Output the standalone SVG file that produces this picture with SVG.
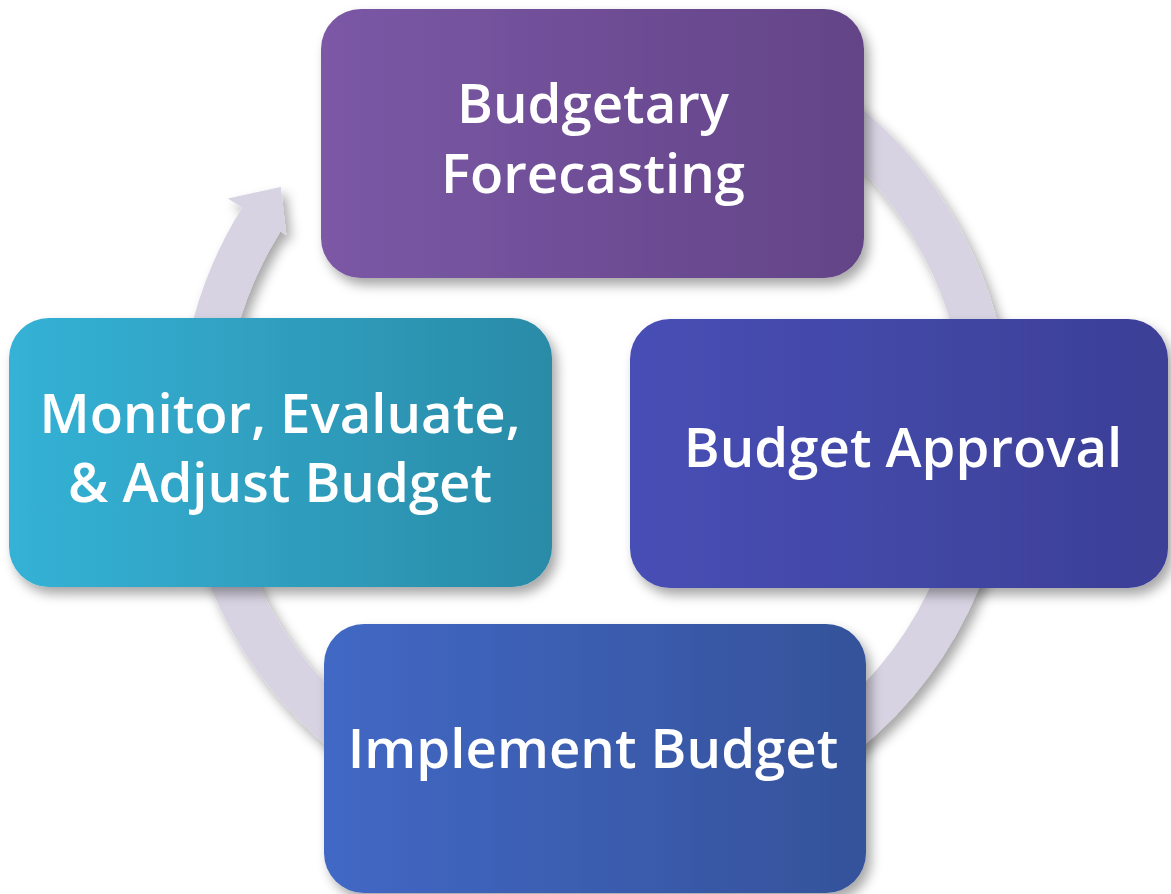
<svg xmlns="http://www.w3.org/2000/svg" width="1171" height="894" viewBox="0 0 1171 894">
  <defs>
    <filter id="shadow" x="-10%" y="-10%" width="125%" height="130%">
      <feDropShadow dx="5" dy="7" stdDeviation="6" flood-color="#000" flood-opacity="0.35"/>
    </filter>
    <linearGradient id="gTop" x1="0" y1="0" x2="1" y2="0">
      <stop offset="0" stop-color="#7B58A6"/>
      <stop offset="1" stop-color="#634487"/>
    </linearGradient>
    <linearGradient id="gRight" x1="0" y1="0" x2="1" y2="0">
      <stop offset="0" stop-color="#474FB5"/>
      <stop offset="1" stop-color="#3C3F96"/>
    </linearGradient>
    <linearGradient id="gLeft" x1="0" y1="0" x2="1" y2="0">
      <stop offset="0" stop-color="#34B2D6"/>
      <stop offset="1" stop-color="#2A8BA7"/>
    </linearGradient>
    <linearGradient id="gBottom" x1="0" y1="0" x2="1" y2="0">
      <stop offset="0" stop-color="#4168C5"/>
      <stop offset="1" stop-color="#35529A"/>
    </linearGradient>
  </defs>
  <style>
    .box { filter: url(#shadow); }
    .lbl { font-family: "Open Sans", "Noto Sans", sans-serif; font-size: 54.5px; font-weight: 600; fill: #FFFFFF; text-anchor: middle; }
    .ring { fill: none; stroke: #D8D3E2; stroke-width: 45; }
    .head { fill: #D8D3E2; }
  </style>

  <g id="connectors" filter="url(#shadow)">
    <path class="ring" d="M 460.42 58.23 A 393.5 393.5 0 1 1 261.29 219.48"/>
    <polygon class="head" points="227.8,198.5 280.8,186.9 286.3,235.1"/>
  </g>

  <g id="node-forecasting">
    <rect class="box" x="321" y="9" width="543" height="269" rx="40" ry="40" fill="url(#gTop)"/>
    <text class="lbl" x="593" y="123">Budgetary</text>
    <text class="lbl" x="593" y="193">Forecasting</text>
  </g>

  <g id="node-approval">
    <rect class="box" x="630" y="319" width="538" height="269" rx="40" ry="40" fill="url(#gRight)"/>
    <text class="lbl" x="903" y="467">Budget Approval</text>
  </g>

  <g id="node-monitor">
    <rect class="box" x="9" y="318" width="543" height="269" rx="40" ry="40" fill="url(#gLeft)"/>
    <text class="lbl" x="280" y="433">Monitor, Evaluate,</text>
    <text class="lbl" x="280" y="502">&amp; Adjust Budget</text>
  </g>

  <g id="node-implement">
    <rect class="box" x="324" y="624" width="542" height="269" rx="40" ry="40" fill="url(#gBottom)"/>
    <text class="lbl" x="593" y="768">Implement Budget</text>
  </g>
</svg>
